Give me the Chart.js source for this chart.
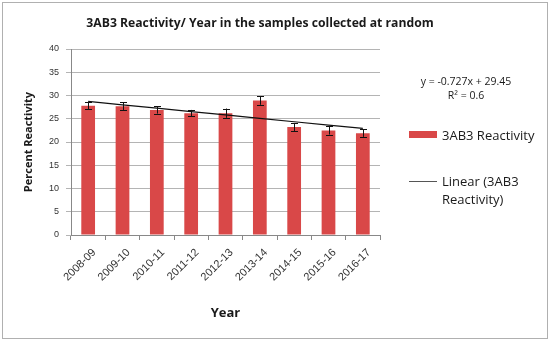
<!DOCTYPE html>
<html>
<head>
<meta charset="utf-8">
<script src="https://cdn.jsdelivr.net/npm/chart.js@4"></script>
<style>
  html, body { margin: 0; padding: 0; background: #fff; }
  #wrap { position: relative; width: 550px; height: 341px; font-family: "Open Sans", "Liberation Sans", sans-serif; }
  #frame { position: absolute; left: 2px; top: 2px; width: 544px; height: 335px; border: 1px solid #b0b0b0; pointer-events: none; }
  canvas { position: absolute; left: 0; top: 0; }
  .txt { position: absolute; color: #1a1a1a; white-space: nowrap; }
  #title { left: -15px; width: 550px; top: 14px; text-align: center; font-weight: bold; font-size: 12.2px; }
  #eq { left: 414px; width: 104px; top: 74px; text-align: center; font-size: 10.5px; line-height: 14px; }
  #leg1 { left: 409px; top: 126px; font-size: 13px; }
  #leg2 { left: 409px; top: 172px; font-size: 13px; line-height: 18px; }
  .swatch { display: inline-block; width: 28px; height: 7px; background: #d94848; vertical-align: 2px; margin-right: 5px; }
  .dash { display: inline-block; width: 28px; height: 1px; background: #555; vertical-align: 4px; margin-right: 5px; }
</style>
</head>
<body>
<div id="wrap">
  <canvas id="chart" width="550" height="341"></canvas>
  <div id="frame"></div>
  <div class="txt" id="title">3AB3 Reactivity/ Year in the samples collected at random</div>
  <div class="txt" id="eq">y = -0.727x + 29.45<br>R² = 0.6</div>
  <div class="txt" id="leg1"><span class="swatch"></span>3AB3 Reactivity</div>
  <div class="txt" id="leg2"><span class="dash"></span>Linear (3AB3<br><span style="margin-left:33px">Reactivity)</span></div>
</div>
<script>
const years = ["2008-09", "2009-10", "2010-11", "2011-12", "2012-13", "2013-14", "2014-15", "2015-16", "2016-17"];
const reactivity = [27.8, 27.7, 26.9, 26.2, 26.2, 28.9, 23.2, 22.5, 21.9];
const errors = [0.7, 0.9, 0.8, 0.7, 1.0, 0.9, 0.9, 0.9, 0.8];
const trend = [28.72, 27.99, 27.27, 26.54, 25.82, 25.09, 24.36, 23.63, 22.91];
const yTicks = [0, 5, 10, 15, 20, 25, 30, 35, 40];

// error bars drawn from the bar dataset through the y scale
const errorBars = {
  id: "errorBars",
  afterDatasetsDraw(chart) {
    const ctx = chart.ctx;
    const meta = chart.getDatasetMeta(0);
    const y = chart.scales.y;
    ctx.save();
    ctx.strokeStyle = "#111";
    ctx.lineWidth = 1;
    meta.data.forEach((bar, i) => {
      const top = y.getPixelForValue(reactivity[i] + errors[i]);
      const bot = y.getPixelForValue(reactivity[i] - errors[i]);
      const x = Math.round(bar.x) + 0.5;
      ctx.beginPath();
      ctx.moveTo(x, top); ctx.lineTo(x, bot);
      ctx.moveTo(x - 3.5, Math.round(top) + 0.5); ctx.lineTo(x + 3.5, Math.round(top) + 0.5);
      ctx.moveTo(x - 3.5, Math.round(bot) + 0.5); ctx.lineTo(x + 3.5, Math.round(bot) + 0.5);
      ctx.stroke();
    });
    ctx.restore();
  }
};

new Chart(document.getElementById("chart"), {
  type: "bar",
  data: {
    labels: years,
    datasets: [
      {
        label: "3AB3 Reactivity",
        data: reactivity,
        backgroundColor: "#d94848",
        barPercentage: 0.4,
        categoryPercentage: 1,
        order: 2,
      },
      {
        type: "line",
        label: "Linear (3AB3 Reactivity)",
        data: trend,
        borderColor: "#111",
        borderWidth: 1.2,
        pointRadius: 0,
        fill: false,
        order: 1,
      },
    ],
  },
  options: {
    responsive: false,
    animation: false,
    layout: { padding: { top: 49, right: 170, bottom: 20, left: 22 } },
    plugins: {
      legend: { display: false },
      tooltip: { enabled: false },
    },
    scales: {
      x: {
        offset: true,
        grid: { display: true, drawOnChartArea: false, offset: true, color: "#888", tickLength: 5 },
        border: { color: "#888" },
        ticks: {
          color: "#333",
          font: { family: "Liberation Sans", size: 11 },
          minRotation: 45,
          maxRotation: 45,
          padding: 6,
          labelOffset: 6,
        },
        title: {
          display: true,
          text: "Year",
          color: "#1a1a1a",
          font: { family: "Open Sans", size: 13, weight: "bold" },
          padding: { top: 6, bottom: 0 },
        },
        afterFit: (scale) => { scale.height = 86; },
      },
      y: {
        min: 0,
        max: 40,
        afterBuildTicks: (scale) => { scale.ticks = yTicks.map((v) => ({ value: v })); },
        grid: { color: "#b4b4b4", tickLength: 5 },
        border: { color: "#888" },
        ticks: {
          color: "#333",
          font: { family: "Liberation Sans", size: 9 },
          padding: 7,
        },
        title: {
          display: true,
          text: "Percent Reactivity",
          color: "#1a1a1a",
          font: { family: "Open Sans", size: 11, weight: "bold" },
          padding: { top: 0, bottom: 4 },
        },
        afterFit: (scale) => { scale.width = 49; },
      },
    },
  },
  plugins: [errorBars],
});
</script>
</body>
</html>
